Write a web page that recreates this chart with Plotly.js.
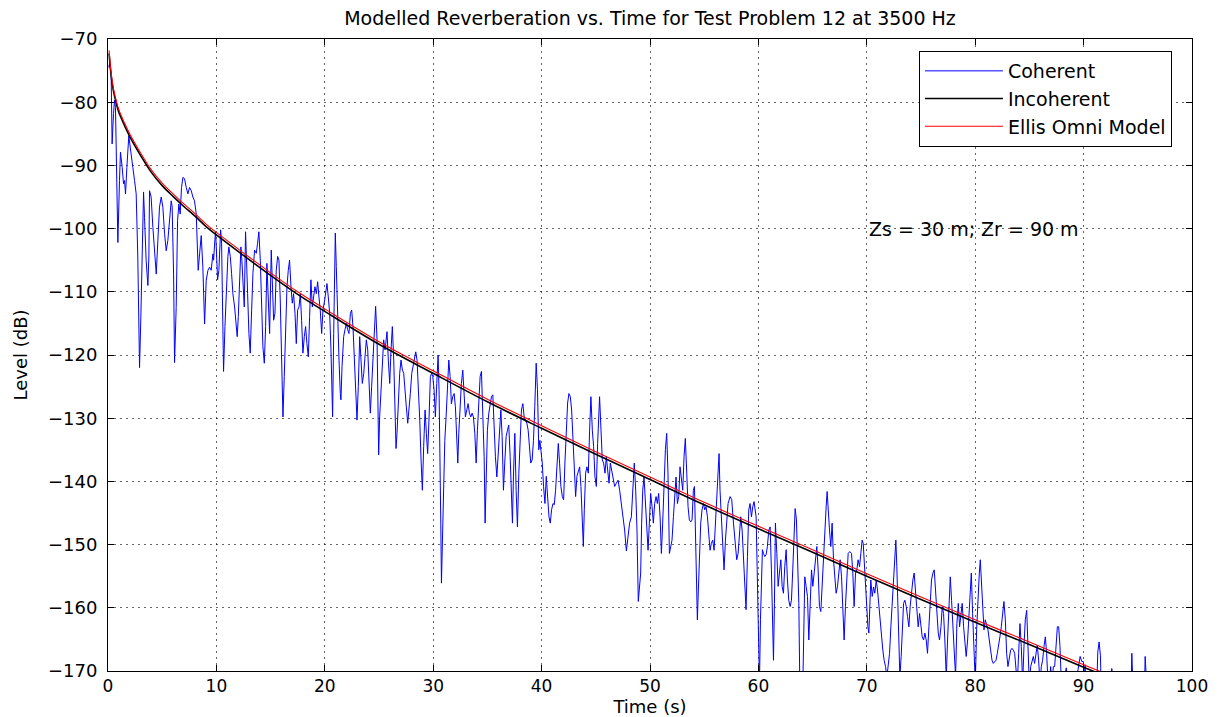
<!DOCTYPE html>
<html>
<head>
<meta charset="utf-8">
<script src="https://cdn.plot.ly/plotly-3.0.1.min.js"></script>
<style>html,body{margin:0;padding:0;background:#fff;}#chart{width:1220px;height:717px;}</style>
</head>
<body>
<div id="chart"></div>
<script>
// ---- Coherent (segment by segment) ----
const cohT0 = [0.08,0.14,0.29,0.38,0.51,0.6,0.69,0.82,0.91,1.06,1.15,1.31,1.43,1.52,1.62,1.74,1.86,1.92,2.05,2.2,2.29,2.45,2.6,2.75,2.85,2.91,3.03,3.15,3.28,3.37,3.52,3.68,3.77,3.83,3.98,4.14,4.29,4.45,4.6,4.75,4.91,5.06,5.22,5.37,5.52,5.68,5.83,5.92,6.05,6.14,6.29,6.42,6.54,6.66,6.78,6.91,7.06,7.22,7.37,7.52,7.68,7.83,7.98,8.14,8.23,8.32,8.45,8.6,8.75,8.91,9.06,9.22,9.37,9.52,9.68];
const cohL0 = [-74.5,-73.9,-75.5,-86.6,-81.8,-79.7,-80.8,-94.5,-102.2,-92.4,-87.9,-90.3,-92.9,-92.4,-94.5,-90.3,-85.5,-85.3,-87.1,-88.7,-90.3,-92.4,-94.5,-104.5,-114,-122,-114,-104.5,-94.2,-98.2,-105.1,-109,-104.5,-94,-95,-99.8,-104,-107.2,-101.9,-96.6,-95,-96.6,-100.8,-103.5,-101.9,-98.7,-95.6,-96.6,-107.2,-121.2,-112.5,-98.7,-96.1,-97.7,-93.5,-91.9,-92.1,-93.5,-94.5,-93.5,-94,-95,-95.6,-97.7,-101.9,-106.6,-104,-101.1,-106.1,-115.1,-108.2,-106.6,-106.1,-106.6,-104];

const cohT1 = [9.74,9.86,9.92,9.99,10.11,10.23,10.39,10.48,10.6,10.66,10.79,10.91,11.06,11.15,11.28,11.4,11.52,11.68,11.83,11.92,12.02,12.14,12.26,12.35,12.45,12.57,12.69,12.75,12.88,13.0,13.12,13.25,13.37,13.52,13.68,13.8,13.92,14.05,14.17,14.29,14.42,14.54,14.66,14.79,14.91,15.06,15.15,15.28,15.4,15.52,15.65,15.77,15.89,16.02,16.14,16.26,16.39,16.51,16.63,16.75,16.88,17.0,17.12,17.25,17.37,17.49,17.62,17.74,17.86,17.98,18.11,18.23,18.35,18.48,18.6,18.72,18.85,18.97,19.09,19.22,19.34,19.46,19.58,19.71,19.83,19.99];
const cohL1 = [-105,-101.8,-100.5,-102.9,-108.1,-106.6,-100.2,-102.3,-112.9,-122.6,-115.5,-109.2,-104.4,-102.9,-104.4,-107.1,-110.3,-112.4,-115.5,-117.1,-113.9,-106.6,-102.9,-105,-108.1,-112.4,-100.5,-102.9,-110.3,-116.6,-119.7,-112.9,-107.1,-103.4,-103.9,-102.3,-100.5,-105,-111.3,-118.7,-121.3,-115.5,-105.5,-110.3,-116.6,-103.4,-107.1,-114.5,-113.4,-106.6,-104.4,-105,-111.3,-120.8,-129.8,-123.4,-113.9,-109.2,-106.6,-105,-109.2,-111.8,-110.3,-113.4,-118.2,-112.9,-112.4,-110.3,-114.5,-119.7,-117.1,-115.5,-118.2,-120.3,-113.9,-108.1,-112.4,-110.8,-109.2,-110.3,-108.4,-110.8,-112.9,-116.6,-112.9,-111.3];

const cohT2 = [20.08,20.2,20.32,20.45,20.57,20.63,20.72,20.82,20.88,20.97,21.06,21.19,21.31,21.43,21.49,21.59,21.74,21.86,21.99,22.11,22.23,22.36,22.48,22.6,22.72,22.85,22.97,23.09,23.22,23.34,23.46,23.59,23.71,23.83,23.96,24.08,24.2,24.32,24.45,24.57,24.69,24.82,24.88,24.97,25.06,25.19,25.31,25.43,25.56,25.68,25.74,25.86,25.99,26.11,26.23,26.36,26.48,26.57,26.66,26.79,26.91,27.03,27.16,27.28,27.4,27.52,27.65,27.77,27.89,28.02,28.14,28.26,28.39,28.51,28.63,28.76,28.88,29.0,29.12,29.25,29.37,29.49,29.62,29.74,29.86,29.96];
const cohL2 = [-109.7,-108.7,-110.8,-113.4,-119.2,-122.9,-129.8,-116.6,-106,-100.7,-106,-115.5,-120.8,-126.1,-127.1,-121.8,-117.1,-116,-115,-116,-116.6,-113.4,-112.9,-115.5,-120.3,-125,-130.3,-125,-117.1,-120.8,-124.5,-122.9,-120.3,-117.6,-119.2,-124.5,-129.2,-125,-119.7,-115.5,-112.3,-117.6,-127.1,-135.8,-129.8,-125,-120.3,-117.6,-119.2,-116.6,-116.3,-120.8,-124.5,-119.2,-115.5,-120.8,-129.2,-134.8,-132.4,-127.1,-122.9,-120.8,-122.4,-122.9,-125,-128.2,-130.8,-128.7,-126.1,-122.9,-121.8,-120.3,-119.5,-120.8,-125,-130.3,-136.6,-141.4,-134.5,-128.7,-132.4,-135.6,-129.8,-123.4,-122.9,-123.4];

const cohT3 = [30.08,30.2,30.33,30.45,30.54,30.64,30.7,30.76,30.85,30.94,31.07,31.19,31.31,31.44,31.56,31.68,31.8,31.93,32.05,32.17,32.27,32.36,32.48,32.6,32.73,32.85,32.97,33.1,33.22,33.34,33.47,33.59,33.71,33.84,33.96,34.08,34.2,34.33,34.45,34.57,34.7,34.79,34.88,35.0,35.13,35.25,35.37,35.5,35.62,35.74,35.87,35.99,36.11,36.24,36.36,36.48,36.6,36.73,36.85,36.97,37.1,37.22,37.31,37.4,37.53,37.65,37.77,37.9,38.02,38.14,38.27,38.39,38.51,38.64,38.76,38.88,39.0,39.13,39.25,39.37,39.5,39.62,39.74,39.84];
const cohL3 = [-125.5,-129.8,-124.5,-120,-125.5,-136.1,-146.6,-156.1,-149.3,-138.7,-133.5,-129.8,-125.5,-120.8,-123.4,-127.7,-126.6,-126.1,-128.2,-131.9,-137.1,-132.4,-127.7,-124.5,-122.4,-125.5,-129.8,-128.7,-127.7,-129.2,-129.8,-129.2,-129.8,-132.4,-137.1,-131.9,-126.6,-123.4,-122.6,-128.2,-136.1,-146.6,-138.7,-131.9,-129.2,-127.7,-126.6,-126.3,-131.9,-136.1,-139.3,-136.1,-132.4,-128.7,-132.9,-141.4,-137.1,-132.9,-131.9,-131.1,-136.1,-144,-146.6,-139.3,-132.4,-141.4,-147.2,-138.7,-131.9,-128.7,-127.7,-129.8,-130.3,-130.8,-131.9,-134,-137.1,-136.6,-133.5,-128.2,-121.3,-125.5,-135,-133.5];

const cohT4 = [40.06,40.18,40.31,40.43,40.55,40.68,40.8,40.92,41.05,41.17,41.29,41.42,41.54,41.66,41.78,41.91,42.03,42.15,42.28,42.4,42.52,42.65,42.77,42.89,43.02,43.14,43.26,43.38,43.51,43.63,43.75,43.85,43.94,44.06,44.18,44.31,44.43,44.55,44.68,44.8,44.92,45.05,45.17,45.35,45.48,45.6,45.72,45.85,45.97,46.09,46.22,46.34,46.46,46.58,46.74,46.89,47.05,47.2,47.35,47.51,47.66,47.82,47.97,48.12,48.28,48.43,48.55,48.68,48.8,48.92];
const cohL4 = [-137.1,-140.8,-143.5,-139.2,-142.4,-145.6,-146.6,-144.5,-143.5,-143.7,-141.4,-136.1,-134,-137.1,-140.8,-142.4,-142.9,-137.1,-131.9,-127.6,-126.1,-126.6,-128.7,-134,-139.2,-142.4,-139.2,-138.2,-137.7,-140.8,-146.6,-150.3,-144.5,-138.7,-137.7,-138.7,-131.9,-126.6,-131.9,-134.5,-139.2,-140.8,-134,-126.6,-131.9,-136.6,-137.1,-138.7,-136.1,-138.2,-140.3,-137.1,-138.2,-139.8,-140.8,-140.3,-139.8,-141.4,-143.5,-145.6,-147.7,-151,-148.2,-146.6,-145.6,-139.8,-137.1,-141.4,-147.7,-159];

const cohT5 = [49.14,49.23,49.33,49.45,49.57,49.7,49.82,49.94,50.06,50.19,50.31,50.43,50.56,50.68,50.8,50.93,51.05,51.17,51.3,51.42,51.54,51.66,51.79,51.91,52.03,52.16,52.28,52.4,52.53,52.65,52.77,52.9,53.02,53.14,53.26,53.39,53.51,53.63,53.76,53.88,54.0,54.1,54.19,54.28,54.37,54.46,54.56,54.68,54.8,54.93,55.05,55.17,55.3,55.42,55.54,55.66,55.79,55.91,56.03,56.16,56.28,56.37,56.46,56.59,56.71,56.83,56.96,57.08,57.2,57.39,57.54,57.7,57.85,58.0,58.13,58.25,58.37,58.5,58.62,58.74,58.86,58.99,59.11,59.23,59.36,59.48,59.6];
const cohL5 = [-154.5,-146.6,-141.4,-139.3,-142.9,-147.7,-150.9,-146.6,-141.9,-144,-146.6,-143.5,-142.4,-143.5,-141.9,-145.6,-151.4,-146.6,-138.7,-135,-132.4,-138.7,-151.4,-150.3,-149.3,-145.6,-141.4,-139.3,-143.5,-142.4,-137.7,-140.3,-141.4,-136.1,-133.2,-138.7,-144,-146.1,-146.4,-146.1,-141.4,-140.8,-149.3,-157.2,-161.9,-157.2,-150.9,-146.6,-144.5,-143.5,-144.5,-144,-145.6,-147.7,-150.9,-149.8,-149.3,-150.9,-146.6,-141.4,-137.1,-135.6,-141.4,-146.6,-149.8,-154,-149.3,-145.6,-143.5,-142.4,-142.9,-146.6,-149.8,-152.4,-151.4,-147.7,-145.6,-147.7,-151.9,-156.1,-160.3,-151.9,-144.5,-143.5,-145.6,-144,-143.2];

const cohT6 = [59.79,59.91,60.0,60.1,60.19,60.28,60.37,60.47,60.59,60.71,60.83,60.96,61.08,61.2,61.3,61.39,61.48,61.57,61.7,61.82,61.94,62.07,62.19,62.31,62.43,62.56,62.68,62.8,62.93,63.05,63.17,63.3,63.39,63.51,63.6,63.73,63.82,63.97,64.1,64.19,64.28,64.4,64.53,64.65,64.77,64.9,65.02,65.14,65.27,65.39,65.51,65.63,65.76,65.88,66.0,66.13,66.25,66.34,66.43,66.56,66.68,66.8,66.93,67.05,67.17,67.3,67.42,67.54,67.67,67.79,67.91,68.03,68.16,68.28,68.43,68.59,68.71,68.83,68.96,69.08,69.2,69.33,69.45,69.57,69.67];
const cohL6 = [-145.6,-154,-163,-172,-161.9,-154,-150.8,-151.4,-151.9,-151.6,-150.3,-147.7,-147.2,-154,-161.9,-168.3,-159.3,-146.6,-151.4,-156.6,-154.5,-152.4,-156.6,-157.7,-153.5,-150.8,-155.6,-158.8,-159.8,-158.8,-154,-146.1,-144.3,-146.1,-151.4,-159.3,-172,-175,-172,-159.3,-155.1,-156.6,-158.2,-165.1,-159.8,-154,-156.6,-154.5,-151.4,-150.3,-154,-159.8,-160.6,-156.6,-150.3,-146.1,-144,-141.6,-145.1,-147.7,-150.3,-146.6,-152.4,-156.1,-157.7,-156.6,-154,-152.4,-155.1,-160.9,-165.1,-159.8,-155.1,-151.4,-151.1,-151.4,-154.5,-159.8,-154.5,-154,-152.4,-153.5,-151.4,-149.3,-149.8];

const cohT7 = [69.76,69.88,70.0,70.1,70.19,70.28,70.37,70.5,70.62,70.74,70.87,70.99,71.11,71.24,71.36,71.48,71.6,71.73,71.85,71.97,72.1,72.22,72.34,72.47,72.59,72.68,72.77,72.87,72.96,73.05,73.17,73.3,73.39,73.51,73.64,73.76,73.88,74.0,74.13,74.25,74.37,74.5,74.62,74.74,74.87,74.99,75.11,75.24,75.36,75.48,75.6,75.73,75.85,75.97,76.1,76.22,76.34,76.47,76.59,76.71,76.84,76.96,77.08,77.2,77.33,77.45,77.57,77.7,77.82,77.94,78.07,78.19,78.31,78.44,78.56,78.68,78.8,78.93,79.05,79.17,79.3,79.42,79.54,79.64];
const cohL7 = [-152.4,-157.2,-159.8,-163,-164,-159.8,-155.6,-158.2,-156.7,-157.7,-155.6,-157.2,-159.8,-163,-165.1,-166.7,-168.3,-169.3,-171,-169.3,-167.2,-163,-158.8,-154.5,-150.3,-149.3,-153.5,-159.8,-166.2,-171,-167.7,-163,-159.3,-158.8,-159.8,-161.4,-163,-159.8,-157.2,-155.6,-154.5,-157.2,-160.9,-163,-160.9,-163,-164.6,-165.1,-164,-165.1,-167.2,-163,-158.8,-155.6,-154.5,-154,-157.2,-161.9,-164,-165.1,-163,-159.8,-160.9,-165.1,-171,-165.1,-159.8,-155.1,-158.8,-163,-166.2,-171,-162.5,-159.3,-163,-160.9,-159.3,-163,-166.2,-167.7,-165.1,-160.9,-157.2,-154.5];

const cohT8 = [79.76,79.88,80.01,80.13,80.25,80.38,80.47,80.56,80.68,80.81,80.93,81.05,81.18,81.3,81.42,81.55,81.67,81.79,81.92,82.04,82.16,82.28,82.41,82.53,82.65,82.78,82.9,83.02,83.15,83.27,83.39,83.52,83.64,83.76,83.88,84.01,84.13,84.25,84.38,84.5,84.62,84.75,84.87,84.99,85.12,85.24,85.36,85.48,85.61,85.73,85.85,85.98,86.1,86.22,86.35,86.47,86.59,86.72,86.84,86.96,87.08,87.21,87.33,87.45,87.58,87.7,87.82,87.95,88.07,88.4,88.6,89.0,89.52,89.68,89.83,89.98,90.08,90.14,90.2,90.6,91.22,91.31,91.43,91.55,91.62,92.4,92.6,92.75,93.5,94.35,94.45,94.54,95.0,95.6,95.68,95.77,96.0];
const cohL8 = [-160.9,-167.2,-172,-163.5,-158.2,-154.5,-152.4,-155.6,-160.9,-163.5,-161.9,-162.5,-163.5,-165.1,-167.2,-168.3,-168.8,-168.5,-168.3,-167.2,-166.1,-164.6,-163,-160.9,-159,-161.9,-167.2,-169.3,-167.7,-166.7,-166.4,-166.7,-167.2,-169.3,-172,-167.2,-162.5,-166.1,-172,-166.1,-161.9,-160.4,-165.1,-172,-169.3,-168.3,-167.7,-168.8,-167.2,-165.9,-168.3,-172,-169.3,-168.3,-166.1,-164.6,-167.2,-172,-172,-169.3,-172,-169.3,-169.3,-166.1,-163,-163,-166.1,-172,-173,-169.5,-173,-175,-169,-167.7,-168.5,-168.5,-172,-169,-172,-176,-172,-167,-165.4,-167.5,-172,-176,-169.6,-172,-178,-175,-167.2,-172,-178,-174,-167.7,-172,-178];

// ---- Smooth model curves ----
const curveTime  = [0.1,0.3,0.5,0.8,1,1.5,2,3,4,5,6,7,8,9,10,12,15,17.5,20,25,30,35,40,45,50,55,60,65,70,75,80,85,90,92];
const incoherent = [-72.3,-75.9,-78.2,-80.4,-81.6,-83.6,-85.4,-88.4,-91.1,-93.2,-94.9,-96.5,-98,-99.6,-101,-103.6,-107.4,-110.4,-113.1,-118.3,-122.9,-127.4,-131.6,-135.7,-139.7,-143.7,-147.5,-151.2,-155,-158.7,-162.3,-165.8,-169.4,-170.8];
const ellisOmni  = [-71.8,-75.5,-77.8,-80,-81.2,-83.2,-85,-88,-90.7,-92.8,-94.5,-96.1,-97.6,-99.2,-100.6,-103.2,-107,-110,-112.7,-117.9,-122.5,-127,-131.2,-135.3,-139.3,-143.3,-147.1,-150.8,-154.6,-158.3,-161.9,-165.4,-169,-170.4];

const seriesNames = ["Coherent", "Incoherent", "Ellis Omni Model"];
const titleText = "Modelled Reverberation vs. Time for Test Problem 12 at 3500 Hz";
const noteText = "Zs = 30 m; Zr = 90 m";

const cohTime = [].concat(cohT0, cohT1, cohT2, cohT3, cohT4, cohT5, cohT6, cohT7, cohT8);
const cohLevel = [].concat(cohL0, cohL1, cohL2, cohL3, cohL4, cohL5, cohL6, cohL7, cohL8);

const FONT = "DejaVu Sans, Liberation Sans, Arial, sans-serif";

const traces = [
  {x: cohTime, y: cohLevel, type: "scatter", mode: "lines", name: seriesNames[0],
   line: {color: "#0000ff", width: 1}},
  {x: curveTime, y: incoherent, type: "scatter", mode: "lines", name: seriesNames[1],
   line: {color: "#000000", width: 1.6, shape: "spline", smoothing: 1}},
  {x: curveTime, y: ellisOmni, type: "scatter", mode: "lines", name: seriesNames[2],
   line: {color: "#ff0000", width: 1.1, shape: "spline", smoothing: 1}}
];

const axisCommon = {
  showline: true, linecolor: "#000", linewidth: 1, mirror: "ticks",
  ticks: "inside", ticklen: 6, tickcolor: "#000", tickwidth: 1,
  showgrid: true, gridcolor: "rgba(0,0,0,0.6)", gridwidth: 1, griddash: "2px,4px",
  zeroline: false, tickfont: {family: FONT, size: 18, color: "#000"}
};

const layout = {
  width: 1220, height: 717,
  paper_bgcolor: "#fff", plot_bgcolor: "#fff",
  margin: {l: 108, r: 28, t: 39, b: 46},
  showlegend: true,
  title: {text: titleText, font: {family: FONT, size: 19, color: "#000"},
          x: 0.5, xref: "paper", y: 0.974, yref: "container", yanchor: "middle"},
  xaxis: Object.assign({}, axisCommon, {
    range: [0, 100], dtick: 10, tick0: 0,
    ticklabelstandoff: 0,
    tickfont: {family: FONT, size: 17, color: "#000"},
    title: {text: "Time (s)", font: {family: FONT, size: 18, color: "#000"}, standoff: 7}
  }),
  yaxis: Object.assign({}, axisCommon, {
    range: [-170, -70], dtick: 10, tick0: -170,
    ticklabelstandoff: 6,
    title: {text: "Level (dB)", font: {family: FONT, size: 18, color: "#000"}, standoff: 15}
  }),
  legend: {
    x: 0.9815, xanchor: "right", y: 0.981, yanchor: "top",
    bgcolor: "#fff", bordercolor: "#000", borderwidth: 1,
    font: {family: FONT, size: 19, color: "#000"},
    tracegroupgap: 0, itemwidth: 78
  },
  annotations: [{
    text: noteText, x: 70, y: -100, xref: "x", yref: "y",
    xanchor: "left", yanchor: "middle", showarrow: false,
    font: {family: FONT, size: 19, color: "#000"}
  }]
};

Plotly.newPlot("chart", traces, layout, {displayModeBar: false, staticPlot: true});
</script>
</body>
</html>
